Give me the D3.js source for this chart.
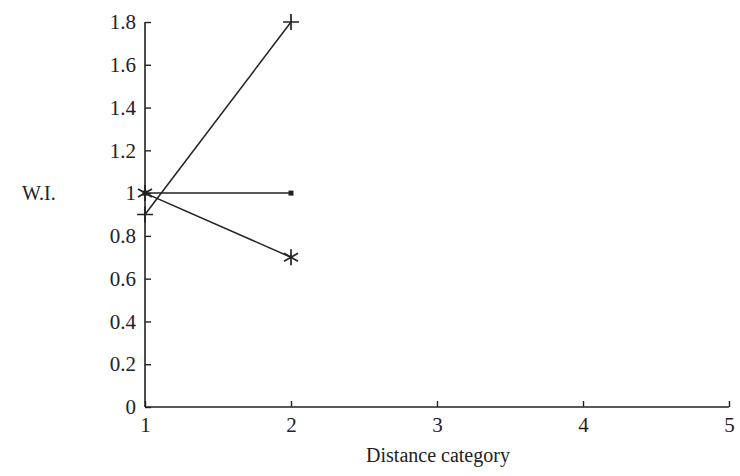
<!DOCTYPE html>
<html>
<head>
<meta charset="utf-8">
<script src="https://cdn.jsdelivr.net/npm/d3@7"></script>
<style>
  body { margin: 0; background: #fff; }
  text { font-family: "Liberation Serif", "DejaVu Serif", serif; fill: #222; }
</style>
</head>
<body>
<svg id="chart" width="740" height="476"></svg>
<script>
// Data
const categories = [1, 2];
const plusSeries = [0.9, 1.8];
const dotSeries = [1, 1];
const starSeries = [1, 0.7];
const yTicks = [0, 0.2, 0.4, 0.6, 0.8, 1, 1.2, 1.4, 1.6, 1.8];
const xTicks = [1, 2, 3, 4, 5];

const svg = d3.select("#chart");
const serif = "Liberation Serif, DejaVu Serif, serif";

// scales
const x = d3.scaleLinear().domain([1, 5]).range([145, 729]);
const y = d3.scaleLinear().domain([0, 1.8]).range([407, 22]);

// y axis, ticks pointing inward
const yAxis = svg.append("g")
    .attr("transform", `translate(${x(1)},0)`)
    .call(d3.axisLeft(y).tickValues(yTicks).tickSize(-6).tickPadding(9)
        .tickFormat(d => d3.format("~g")(d)))
    .attr("font-family", serif);
yAxis.select(".domain").attr("stroke", "#222").attr("stroke-width", 1.6).attr("d", `M0,${y(0)}V${y(1.8)}`);
yAxis.selectAll(".tick line").attr("stroke", "#222").attr("stroke-width", 1.4);
yAxis.selectAll(".tick text").style("font-size", "21px").attr("fill", "#222");

// x axis, ticks pointing up
const xAxis = svg.append("g")
    .attr("transform", `translate(0,${y(0)})`)
    .call(d3.axisBottom(x).tickValues(xTicks).tickSize(-6).tickPadding(10)
        .tickFormat(d3.format("d")))
    .attr("font-family", serif);
xAxis.select(".domain").attr("stroke", "#222").attr("stroke-width", 1.6).attr("d", `M${x(1)},0H${x(5)}`);
xAxis.selectAll(".tick line").attr("stroke", "#222").attr("stroke-width", 1.4);
xAxis.selectAll(".tick text").style("font-size", "21px").attr("fill", "#222");

// axis titles
svg.append("text")
    .attr("x", 438).attr("y", 462)
    .attr("text-anchor", "middle")
    .style("font-size", "20px")
    .text("Distance category");

svg.append("text")
    .attr("x", 22).attr("y", 200)
    .style("font-size", "20px")
    .text("W.I.");

const line = d3.line().x((d, i) => x(categories[i])).y(d => y(d));

function drawLine(values) {
    svg.append("path")
        .datum(values)
        .attr("fill", "none")
        .attr("stroke", "#222")
        .attr("stroke-width", 1.5)
        .attr("d", line);
}

drawLine(plusSeries);
drawLine(dotSeries);
drawLine(starSeries);

// markers
svg.selectAll(".plus")
    .data(plusSeries)
    .enter()
    .append("path")
    .attr("class", "plus")
    .attr("d", "M-8,0H8M0,-8V8")
    .attr("transform", (d, i) => `translate(${x(categories[i])},${y(d)})`)
    .attr("stroke", "#222")
    .attr("stroke-width", 1.7)
    .attr("fill", "none");

svg.selectAll(".dot")
    .data(dotSeries)
    .enter()
    .append("rect")
    .attr("class", "dot")
    .attr("x", (d, i) => x(categories[i]) - 2.5)
    .attr("y", d => y(d) - 2.5)
    .attr("width", 5)
    .attr("height", 5)
    .attr("fill", "#222");

const starPath = "M0,-8V8M-7,-4L7,4M-7,4L7,-4";
svg.selectAll(".star")
    .data(starSeries)
    .enter()
    .append("path")
    .attr("class", "star")
    .attr("d", starPath)
    .attr("transform", (d, i) => `translate(${x(categories[i])},${y(d)})`)
    .attr("stroke", "#222")
    .attr("stroke-width", 1.7)
    .attr("fill", "none");
</script>
</body>
</html>
